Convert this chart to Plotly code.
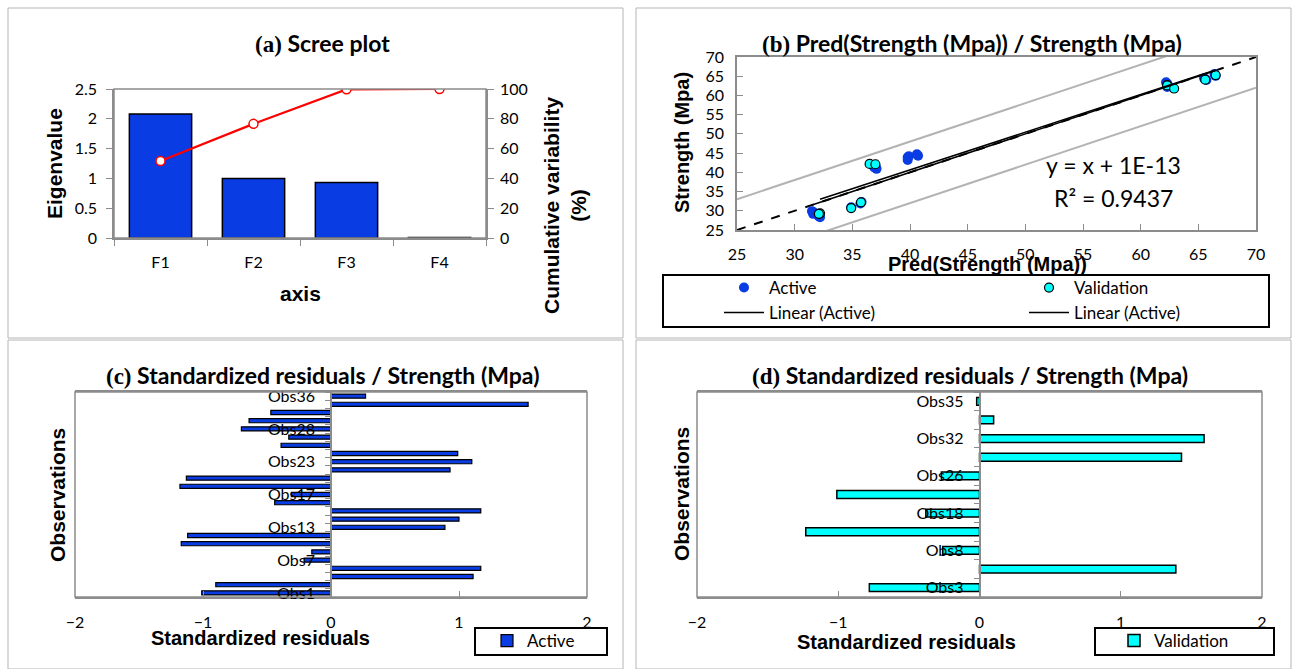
import plotly.graph_objects as go

W, H = 1295, 669

# ---------------- data ----------------
# (a) scree plot
factors = ["F1", "F2", "F3", "F4"]
eigenvalues = [2.08, 1.00, 0.93, 0.01]
cumulative_pct = [51.7, 76.6, 99.75, 100.0]

# (b) predicted vs observed
active_pred = [31.5, 31.6, 31.7, 32.1, 32.0, 32.2, 36.9, 37.1, 37.0, 39.8, 39.8, 39.9,
               40.7, 40.6, 62.2, 62.3, 62.4, 62.3, 65.5, 65.7, 66.4, 66.5, 34.9, 35.8, 35.7]
active_obs = [29.9, 29.2, 29.5, 28.5, 28.9, 28.3, 41.3, 40.9, 41.6, 43.2, 43.9, 44.2,
              44.3, 44.7, 63.4, 63.0, 62.6, 62.2, 64.5, 64.0, 65.6, 65.1, 30.9, 32.3, 31.9]
valid_pred = [32.2, 32.1, 34.9, 35.75, 36.5, 37.0, 62.3, 62.3, 62.9, 65.6, 66.5]
valid_obs = [29.3, 29.2, 30.7, 32.2, 42.2, 42.1, 62.7, 62.6, 61.8, 64.1, 65.3]
diag_x = [25, 70]
diag_y = [25, 70]
band_x = [25, 70]
band_upper = [33.0, 78.0]
band_lower = [17.0, 62.0]
trend_x = [31.5, 66.5]
trend_active_y = [31.5, 66.5]
trend2_x = [32.2, 66.5]
trend2_y = [33.0, 66.6]

# (c) standardized residuals, active
active_ids = ["Obs1", "Obs2", "Obs4", "Obs5", "Obs7", "Obs9", "Obs10", "Obs11", "Obs13",
              "Obs14", "Obs15", "Obs16", "Obs17", "Obs19", "Obs20", "Obs21", "Obs23",
              "Obs24", "Obs25", "Obs27", "Obs28", "Obs29", "Obs30", "Obs33", "Obs36"]
active_res = [-1.01, -0.90, 1.11, 1.17, -0.21, -0.15, -1.17, -1.12, 0.89,
              1.00, 1.17, -0.44, -0.31, -1.18, -1.13, 0.93, 1.10,
              0.99, -0.39, -0.33, -0.70, -0.64, -0.47, 1.54, 0.27]
active_labels = ["Obs1", "Obs7", "Obs13", "Obs17", "Obs23", "Obs28", "Obs36"]

# (d) standardized residuals, validation
valid_ids = ["Obs3", "Obs6", "Obs8", "Obs12", "Obs18", "Obs22", "Obs26", "Obs31",
             "Obs32", "Obs34", "Obs35"]
valid_res = [-0.78, 1.39, -0.26, -1.23, -0.38, -1.01, -0.27, 1.43, 1.59, 0.10, -0.02]
valid_labels = ["Obs3", "Obs8", "Obs18", "Obs26", "Obs32", "Obs35"]

# ---------------- helpers ----------------
def fx(p):
    return p / W

def fy(p):
    return 1 - p / H

NUM = "Lato"
BOLD = "Liberation Sans"
GRAY = "#8c8c8c"
BLUE = "#0a3ce4"
CYAN = "#00ffff"

fig = go.Figure()

# (a)
fig.add_trace(go.Bar(x=factors, y=eigenvalues, width=0.67, marker=dict(color=BLUE, line=dict(color="black", width=1.5)),
                     xaxis="x", yaxis="y", showlegend=False))
fig.add_trace(go.Scatter(x=factors, y=cumulative_pct, mode="lines+markers",
                         line=dict(color="#ff0000", width=2.2),
                         marker=dict(size=9, color="white", line=dict(color="#ff0000", width=1.5)),
                         xaxis="x", yaxis="y2", showlegend=False))

# (b)
fig.add_trace(go.Scatter(x=band_x, y=band_upper, mode="lines", line=dict(color="#b3b3b3", width=2),
                         xaxis="x2", yaxis="y3", showlegend=False))
fig.add_trace(go.Scatter(x=band_x, y=band_lower, mode="lines", line=dict(color="#b3b3b3", width=2),
                         xaxis="x2", yaxis="y3", showlegend=False))
fig.add_trace(go.Scatter(x=diag_x, y=diag_y, mode="lines", line=dict(color="black", width=2, dash="dash"),
                         xaxis="x2", yaxis="y3", showlegend=False))
fig.add_trace(go.Scatter(x=active_pred, y=active_obs, mode="markers", name="Active",
                         marker=dict(size=10, color=BLUE), xaxis="x2", yaxis="y3", legend="legend"))
fig.add_trace(go.Scatter(x=valid_pred, y=valid_obs, mode="markers", name="Validation",
                         marker=dict(size=9, color=CYAN, line=dict(color="black", width=1.2)),
                         xaxis="x2", yaxis="y3", legend="legend"))
fig.add_trace(go.Scatter(x=trend_x, y=trend_active_y, mode="lines", name="Linear (Active)",
                         line=dict(color="black", width=1.5), xaxis="x2", yaxis="y3", legend="legend4"))
fig.add_trace(go.Scatter(x=trend2_x, y=trend2_y, mode="lines", name="Linear (Active)",
                         line=dict(color="black", width=1.5), xaxis="x2", yaxis="y3", legend="legend4"))

# (c)
fig.add_trace(go.Bar(x=active_res, y=list(range(len(active_ids))), orientation="h", width=0.5,
                     name="Active", marker=dict(color=BLUE, line=dict(color="black", width=1.2)),
                     xaxis="x3", yaxis="y4", legend="legend2"))
# (d)
fig.add_trace(go.Bar(x=valid_res, y=list(range(len(valid_ids))), orientation="h", width=0.42,
                     name="Validation", marker=dict(color=CYAN, line=dict(color="black", width=1.5)),
                     xaxis="x4", yaxis="y5", legend="legend3"))

tickfont = dict(family=NUM, size=16, color="black")

def lin_axis(**kw):
    base = dict(tickcolor=GRAY, showline=True, linecolor=GRAY, linewidth=1.5,
                tickfont=tickfont, showgrid=False, zeroline=False, ticklen=6)
    base.update(kw)
    return base

legfont = dict(family=NUM, size=17, color="black")

layout = dict(
    width=W, height=H, margin=dict(l=0, r=0, t=0, b=0, autoexpand=False),
    paper_bgcolor="white", plot_bgcolor="rgba(0,0,0,0)",
    # (a)
    xaxis=lin_axis(domain=[fx(114), fx(486)], anchor="y", type="category", tickson="boundaries",
                   ticks="outside", ticklabelstandoff=9),
    yaxis=lin_axis(domain=[fy(238), fy(89)], anchor="x", range=[0, 2.5], dtick=0.5, ticks="outside",
                   ticklabelstandoff=6),
    yaxis2=lin_axis(overlaying="y", side="right", anchor="x", range=[0, 100], dtick=20, ticks="outside",
                    ticklabelstandoff=3),
    # (b)
    xaxis2=lin_axis(domain=[fx(737), fx(1256)], anchor="y3", range=[25, 70], dtick=5, ticks="inside",
                    mirror=True, ticklabelstandoff=9),
    yaxis3=lin_axis(domain=[fy(230), fy(57)], anchor="x2", range=[25, 70], dtick=5, ticks="inside",
                    mirror=True, ticklabelstandoff=8),
    # (c)
    xaxis3=lin_axis(domain=[fx(75), fx(587)], anchor="y4", range=[-2, 2], dtick=1, ticks="inside",
                    mirror=True, ticklabelstandoff=10),
    yaxis4=lin_axis(domain=[fy(597), fy(392)], anchor="free", position=fx(331),
                    range=[-0.5, len(active_ids) - 0.5],
                    tickmode="array", tickvals=[active_ids.index(l) for l in active_labels], ticktext=active_labels,
                    ticks="", ticklabelstandoff=12,
                    minor=dict(tickvals=[i - 0.5 for i in range(len(active_ids) + 1)], ticks="outside",
                               ticklen=5, tickcolor=GRAY, showgrid=False)),
    # (d)
    xaxis4=lin_axis(domain=[fx(697), fx(1262)], anchor="y5", range=[-2, 2], dtick=1, ticks="inside",
                    mirror=True, ticklabelstandoff=10),
    yaxis5=lin_axis(domain=[fy(597), fy(392)], anchor="free", position=fx(979.5),
                    range=[-0.5, len(valid_ids) - 0.5],
                    tickmode="array", tickvals=[valid_ids.index(l) for l in valid_labels], ticktext=valid_labels,
                    ticks="", ticklabelstandoff=12,
                    minor=dict(tickvals=[i - 0.5 for i in range(len(valid_ids) + 1)], ticks="outside",
                               ticklen=5, tickcolor=GRAY, showgrid=False)),
    legend=dict(xref="container", yref="container", x=fx(719), y=fy(270), xanchor="left", yanchor="top",
                orientation="h", entrywidth=250, entrywidthmode="pixels", itemwidth=40,
                font=legfont, bgcolor="rgba(0,0,0,0)", borderwidth=0),
    legend4=dict(xref="container", yref="container", x=fx(719), y=fy(295), xanchor="left", yanchor="top",
                 orientation="h", entrywidth=250, entrywidthmode="pixels", itemwidth=40,
                 font=legfont, bgcolor="rgba(0,0,0,0)", borderwidth=0),
    legend2=dict(xref="container", yref="container", x=fx(487), y=fy(623), xanchor="left", yanchor="top",
                 orientation="v", font=legfont, bgcolor="rgba(0,0,0,0)", itemwidth=30, borderwidth=0),
    legend3=dict(xref="container", yref="container", x=fx(1114), y=fy(623), xanchor="left", yanchor="top",
                 orientation="v", font=legfont, bgcolor="rgba(0,0,0,0)", itemwidth=30, borderwidth=0),
)

shapes = []
# panel borders
for (x0, y0, x1, y1) in [(8, 8, 623, 338), (636, 8, 1291, 338), (8, 340, 623, 669), (636, 340, 1291, 669)]:
    shapes.append(dict(type="rect", xref="paper", yref="paper", x0=fx(x0), x1=fx(x1), y0=fy(y1), y1=fy(y0),
                       line=dict(color="#b5b5b5", width=1)))
# plot area borders
for xr, yr in [("x", "y"), ("x3", "y4"), ("x4", "y5")]:
    shapes.append(dict(type="rect", xref=xr + " domain", yref=yr + " domain", x0=0, x1=1, y0=0, y1=1,
                       line=dict(color=GRAY, width=1.5)))
# legend boxes
for (x0, y0, x1, y1) in [(663, 275, 1269, 327), (475, 628, 607, 655), (1095, 628, 1274, 655)]:
    shapes.append(dict(type="rect", xref="paper", yref="paper", x0=fx(x0), x1=fx(x1), y0=fy(y1), y1=fy(y0),
                       line=dict(color="black", width=2)))
layout["shapes"] = shapes

SERIF = "<span style='font-family:Liberation Serif'>"

def title_html(letter, text):
    return "<b>" + SERIF + "(" + letter + ")</span> " + text + "</b>"

ann = []
def add_text(text, x, y, size, family, angle=0):
    ann.append(dict(text=text, x=fx(x), y=fy(y), xref="paper", yref="paper", showarrow=False,
                    xanchor="center", yanchor="middle", textangle=angle,
                    font=dict(family=family, size=size, color="black")))

add_text(title_html("a", "Scree plot"), 322, 43, 23, NUM)
add_text(title_html("b", "Pred(Strength (Mpa)) / Strength (Mpa)"), 972, 43, 23, NUM)
add_text(title_html("c", "Standardized residuals / Strength (Mpa)"), 322, 375, 23, NUM)
add_text(title_html("d", "Standardized residuals / Strength (Mpa)"), 970, 375, 23, NUM)

add_text("<b>Eigenvalue</b>", 55, 164, 21, BOLD, -90)
add_text("<b>axis</b>", 300, 293, 21, BOLD)
add_text("<b>Cumulative variability<br>(%)</b>", 565, 206, 21, BOLD, -90)
add_text("<b>Strength (Mpa)</b>", 682, 143, 20, BOLD, -90)
add_text("<b>Pred(Strength (Mpa))</b>", 987, 264, 20, BOLD)
add_text("y = x + 1E-13", 1113, 165, 23, NUM)
add_text("R² = 0.9437", 1113, 198, 23, NUM)
add_text("<b>Observations</b>", 57, 495, 21, BOLD, -90)
add_text("<b>Observations</b>", 682, 494, 21, BOLD, -90)
add_text("<b>Standardized residuals</b>", 260, 638, 20, BOLD)
add_text("<b>Standardized residuals</b>", 906, 642, 20, BOLD)
layout["annotations"] = ann

fig.update_layout(**layout)

fig.write_html("out.html", config={"displayModeBar": False},
               post_script="document.body.style.margin='0';")
